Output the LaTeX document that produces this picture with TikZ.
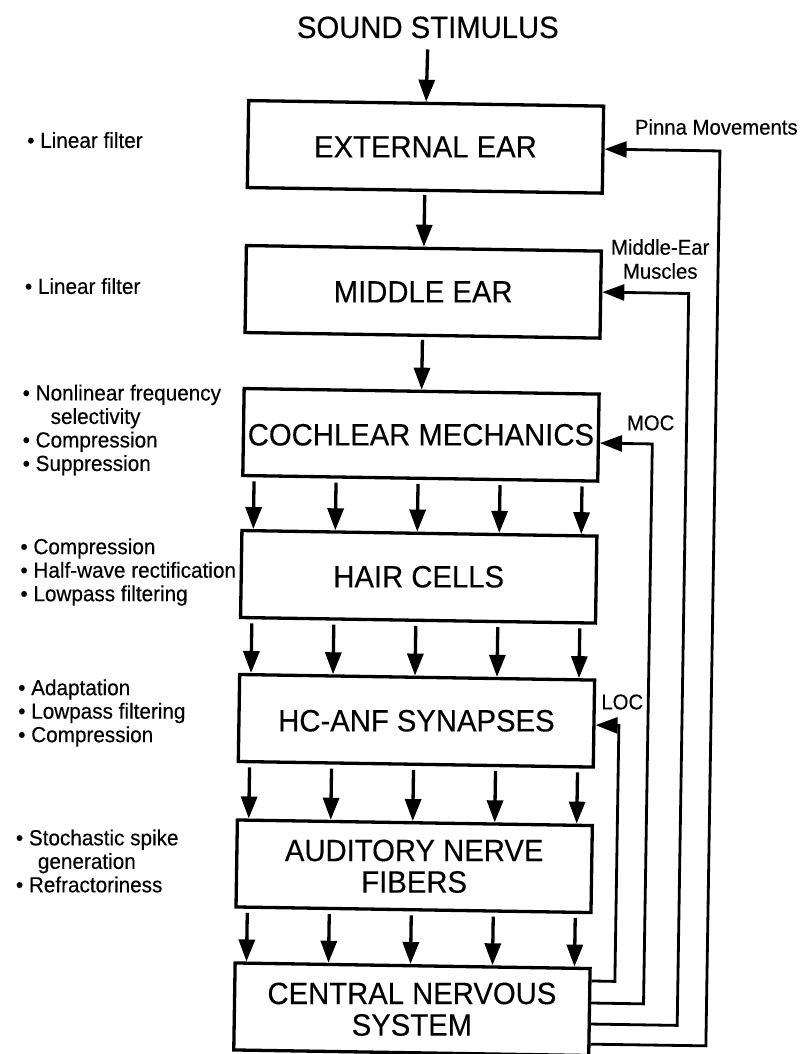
\documentclass[tikz,border=0pt]{standalone}
\usepackage{fontspec}
\setmainfont{Liberation Sans}[FakeStretch=0.95,FakeBold=0.3]
\usetikzlibrary{arrows.meta,calc}
\begin{document}
\begin{tikzpicture}[x=1pt,y=-1pt,
  box/.style={draw,line width=3.3pt,minimum width=355pt,minimum height=87pt,inner sep=0pt,transform shape},
  btxt/.style={inner sep=0pt,align=center,font=\fontsize{30.8}{31.5}\selectfont},
  big/.style={font=\fontsize{30.8}{31.5}\selectfont,inner sep=0pt},
  side/.style={font=\fontsize{21.8}{23.5}\selectfont,inner sep=0pt,align=left,anchor=west},
  lab/.style={font=\fontsize{21.4}{24}\selectfont,inner sep=0pt,align=center},
  arr/.style={line width=3.3pt,-{Triangle[width=16pt,length=22pt]}},
  fb/.style={line width=2.8pt,-{Triangle[width=16pt,length=22pt]}},
]
\fill[white] (0,0) rectangle (800,1054);
\useasboundingbox (0,0) rectangle (800,1054);
\begin{scope}[rotate around={-0.9:(400,527)}]
  % title and boxes
  \node[big] (snd) at (420,27) {SOUND STIMULUS};
  \node[box] (ext)  at (419.5,146.5) {};
  \node[box] (mid)  at (419.5,291.5) {};
  \node[box] (coch) at (419.5,434.5) {};
  \node[box] (hair) at (419.5,576.5) {};
  \node[box] (syn)  at (419.5,720.5) {};
  \node[box] (anf)  at (419.5,866)   {};
  \node[box] (cns)  at (419.5,1009)  {};
  \node[btxt] (ext-t)  at (ext)  {EXTERNAL EAR};
  \node[btxt] (mid-t)  at (mid)  {MIDDLE EAR};
  \node[btxt] (coch-t) at (coch) {COCHLEAR MECHANICS};
  \node[btxt] (hair-t) at (hair) {HAIR CELLS};
  \node[btxt] (syn-t)  at (syn)  {HC-ANF SYNAPSES};
  \node[btxt] (anf-t)  at (anf)  {AUDITORY NERVE\\FIBERS};
  \node[btxt] (cns-t)  at (cns)  {CENTRAL NERVOUS\\SYSTEM};

  % single arrows
  \draw[arr] ([yshift=-11pt]snd.south) -- (ext.north);
  \draw[arr] ([yshift=-3pt]ext.south) -- (mid.north);
  \draw[arr] ([yshift=-3pt]mid.south) -- (coch.north);

  % multiple arrows
  \foreach \dx in {13,95,177,259,341}{
    \draw[arr] ([xshift=\dx pt,yshift=-4pt]coch.south west) -- ([xshift=\dx pt]hair.north west);
    \draw[arr] ([xshift=\dx pt,yshift=-4pt]hair.south west) -- ([xshift=\dx pt]syn.north west);
    \draw[arr] ([xshift=\dx pt,yshift=-4pt]syn.south west) -- ([xshift=\dx pt]anf.north west);
    \draw[arr] ([xshift=\dx pt,yshift=-4pt]anf.south west) -- ([xshift=\dx pt]cns.north west);
  }

  % feedback paths
  \coordinate (locB) at (622,978);  \coordinate (locT) at (622,722);
  \coordinate (mocB) at (651,1000); \coordinate (mocT) at (651,440);
  \coordinate (memB) at (685,1021); \coordinate (memT) at (685,289);
  \coordinate (pinB) at (714,1041); \coordinate (pinT) at (714,146);
  \draw[fb] ($(cns.north east)!0.156!(cns.south east)$) -- (locB) -- (locT) -- ($(syn.north east)!0.517!(syn.south east)$);
  \draw[fb] ($(cns.north east)!0.4!(cns.south east)$) -- (mocB) -- (mocT) -- ($(coch.north east)!0.561!(coch.south east)$);
  \draw[fb] ($(cns.north east)!0.633!(cns.south east)$) -- (memB) -- (memT) -- ($(mid.north east)!0.472!(mid.south east)$);
  \draw[fb] ($(cns.north east)!0.856!(cns.south east)$) -- (pinB) -- (pinT) -- ($(ext.north east)!0.494!(ext.south east)$);

  % feedback labels
  \node[lab] (pin) at (710,122) {Pinna Movements};
  \node[lab] (mem) at (656,255) {Middle-Ear\\Muscles};
  \node[lab] (moc) at (649,419) {MOC};
  \node[lab] (loc) at (625,698.5) {LOC};

  % side notes
  \node[side] (l1) at (21,146) {• Linear filter};
  \node[side] (l2) at (21,292) {• Linear filter};
  \node[side] (l3) at (21,436) {• Nonlinear frequency\\\hspace*{28pt}selectivity\\• Compression\\• Suppression};
  \node[side] (l4) at (21,578) {• Compression\\• Half-wave rectification\\• Lowpass filtering};
  \node[side] (l5) at (21,719) {• Adaptation\\• Lowpass filtering\\• Compression};
  \node[side] (l6) at (21,867) {• Stochastic spike\\\hspace*{22pt}generation\\• Refractoriness};
\end{scope}
\end{tikzpicture}
\end{document}
